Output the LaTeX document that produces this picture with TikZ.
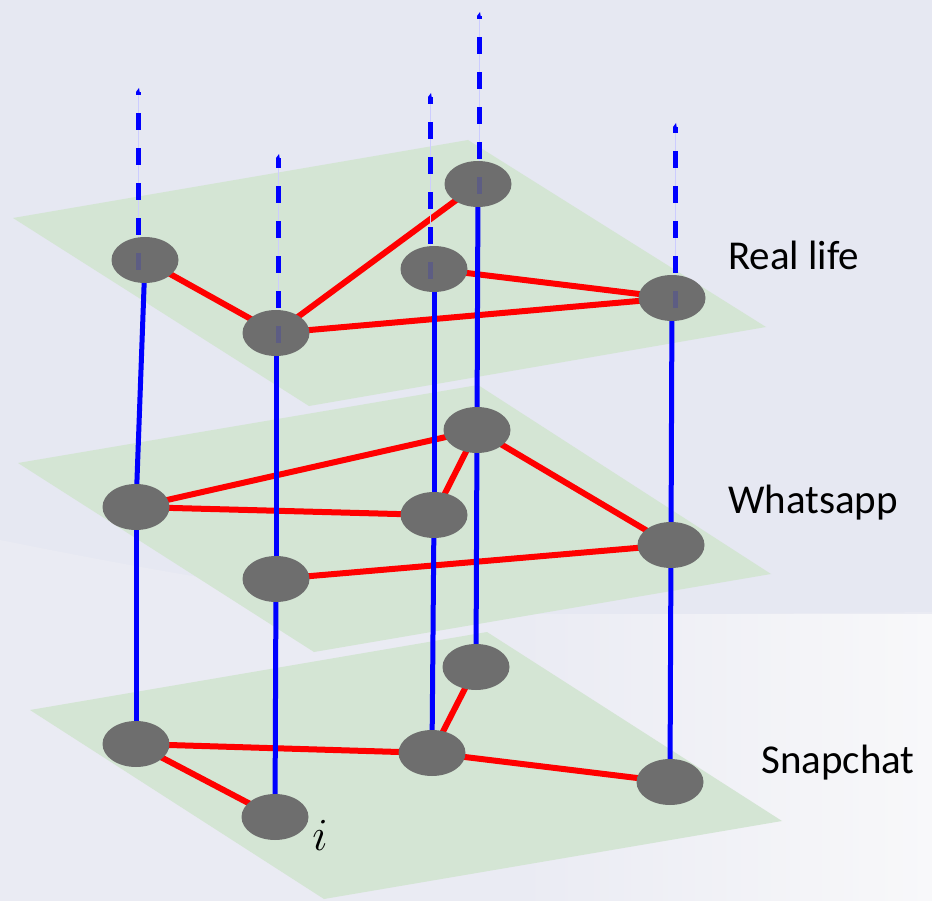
\documentclass[tikz,border=0pt]{standalone}
\usepackage{fontspec}
\setmainfont{Carlito}
\usetikzlibrary{shapes.geometric,calc}
\definecolor{bgcol}{HTML}{E6E8F2}
\definecolor{bglight}{HTML}{EAEBF3}
\definecolor{bgwhite}{HTML}{F8F8FA}
\definecolor{planecol}{HTML}{D4E5D4}
\definecolor{nodegray}{HTML}{6E6E6E}
\definecolor{edgered}{HTML}{FF0000}
\definecolor{colblue}{HTML}{0000FF}
\begin{document}
\begin{tikzpicture}[x=1pt,y=-1pt,
  vnode/.style={ellipse, fill=nodegray, minimum width=67pt, minimum height=46pt, inner sep=0pt},
  rededge/.style={draw=edgered, line width=6pt},
  blueline/.style={draw=colblue, line width=5pt},
  dashtop/.style={draw=colblue, line width=5pt, dash pattern=on 17pt off 18pt},
  thinline/.style={draw=colblue!20, line width=1pt},
  planestyle/.style={fill=planecol},
  lab/.style={font=\fontsize{41}{41}\selectfont, anchor=base west, inner sep=0pt}]
% background
\fill[bgcol] (0,0) rectangle (932,901);
\fill[bglight] (0,540) .. controls (250,590) and (420,615) .. (600,615) -- (932,612) -- (932,901) -- (0,901) -- cycle;
\shade[left color=bglight, right color=bgwhite] (520,614) rectangle (932,901);
\useasboundingbox (0,0) rectangle (932,901);
% planes
\fill[planestyle] (13,218) -- (468,140) -- (766,327) -- (309,406) -- cycle;
\fill[planestyle] (18,463) -- (478,385) -- (771,574) -- (314,652) -- cycle;
\fill[planestyle] (30,710) -- (487,632) -- (782,821) -- (324,899) -- cycle;
% node positions
\coordinate (pA1) at (145,260); \coordinate (pB1) at (276,333); \coordinate (pC1) at (434,269);
\coordinate (pD1) at (478,184); \coordinate (pE1) at (672,298);
\coordinate (pA2) at (136,507); \coordinate (pB2) at (276,579); \coordinate (pC2) at (434,515);
\coordinate (pD2) at (477,430); \coordinate (pE2) at (671,545);
\coordinate (pA3) at (136,744); \coordinate (pB3) at (275,817); \coordinate (pC3) at (432,753);
\coordinate (pD3) at (476,667); \coordinate (pE3) at (670,782);
% tips of dashed lines
\coordinate (tA) at (138,92); \coordinate (tB) at (278,158); \coordinate (tC) at (430,97);
\coordinate (tD) at (479,16); \coordinate (tE) at (675,127);
\coordinate (sA) at (138,270); \coordinate (sB) at (278,343); \coordinate (sC) at (430,279);
\coordinate (sD) at (479,194); \coordinate (sE) at (675,308);
% red edges
\draw[rededge] (pA1) -- (pB1);
\draw[rededge] (pB1) -- (pD1);
\draw[rededge] (pB1) -- (pE1);
\draw[rededge] (pC1) -- (pE1);
\draw[rededge] (pA2) -- (pD2);
\draw[rededge] (pA2) -- (pC2);
\draw[rededge] (pC2) -- (pD2);
\draw[rededge] (pD2) -- (pE2);
\draw[rededge] (pB2) -- (pE2);
\draw[rededge] (pA3) -- (pB3);
\draw[rededge] (pA3) -- (pC3);
\draw[rededge] (pC3) -- (pD3);
\draw[rededge] (pC3) -- (pE3);
% blue vertical lines
\foreach \c in {A,B,C,D,E}{
  \draw[thinline] (s\c) -- (t\c);
  \draw[dashtop] (s\c) -- (t\c);
  \fill[colblue] (t\c) ++(-2,0) -- ++(3,-4) -- ++(1,6) -- cycle;
  \draw[blueline] (p\c1) -- (p\c2);
  \draw[blueline] (p\c2) -- (p\c3);
}
% nodes
\foreach \c in {A,B,C,D,E}{
  \foreach \l in {1,2,3}{
    \node[vnode] (\c\l) at (p\c\l) {};
  }
}
% faint dashes seen through the top nodes
\foreach \c in {A,B,C,D,E}{
  \draw[dashtop, opacity=0.15] (s\c) -- (t\c);
}
% labels
\node[lab] (lreal) at (728,270) {Real life};
\node[lab] (lwhats) at (728,513) {Whatsapp};
\node[lab] (lsnap) at (761,773) {Snapchat};
\node[anchor=base west, inner sep=0pt, font=\Huge, scale=1.85] (ilab) at (312,850) {$i$};
\end{tikzpicture}
\end{document}
